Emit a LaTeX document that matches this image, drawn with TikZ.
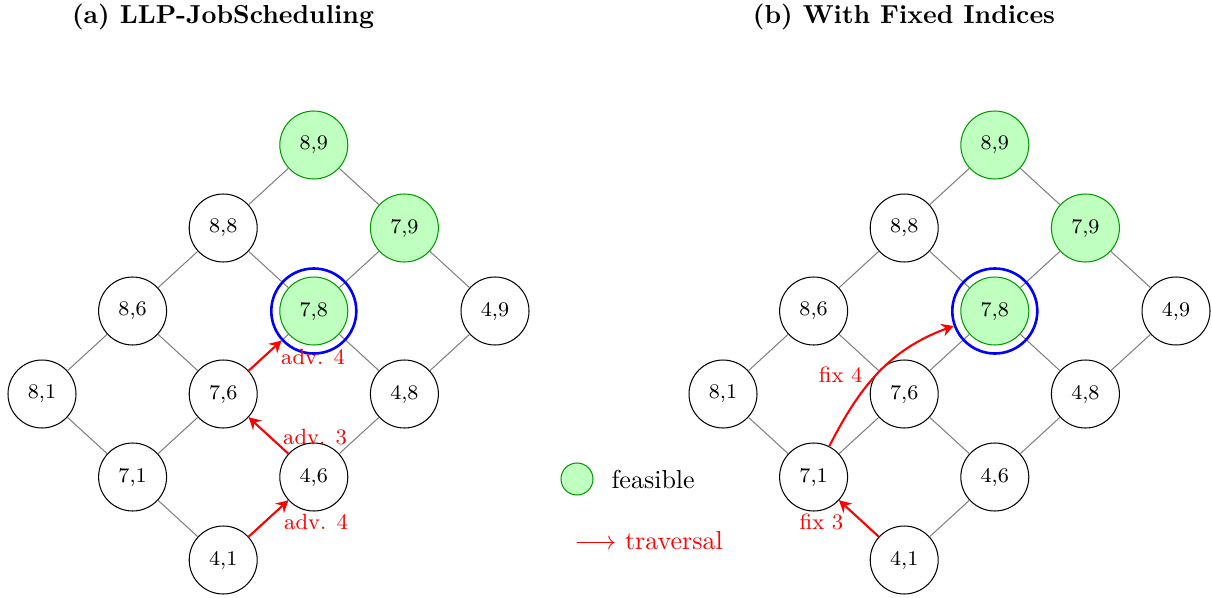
\documentclass[tikz,border=0pt]{standalone}
\usetikzlibrary{arrows.meta}
\begin{document}
\begin{tikzpicture}[x=0.3846pt,y=0.3846pt,
  state/.style={circle,draw=black,line width=0.4pt,fill=white,inner sep=0pt,
    minimum size=26.15pt,font=\fontsize{8}{9.6}\selectfont},
  feas/.style={state,draw=green!60!black,fill=green!25},
  lattice/.style={draw=gray,line width=0.4pt},
  trav/.style={draw=red,line width=0.8pt,-{Stealth[length=4.6pt,width=5pt,inset=1.6pt]}},
  travlbl/.style={text=red,inner sep=0pt,font=\fontsize{8.5}{10}\selectfont},
  ring/.style={circle,draw=blue,line width=1pt,inner sep=0pt,minimum size=32.7pt},
  ttl/.style={font=\bfseries}]
\useasboundingbox (0,0) rectangle (1212,597);

% titles
\node[ttl] (ta) at (223,580) {(a) LLP-JobScheduling};
\node[ttl] (tb) at (904,580) {(b) With Fixed Indices};

% ---------- (a) lattice ----------
\node[feas]  (a89) at (313.8,452) {8,9};
\node[state] (a88) at (223.2,369) {8,8};
\node[feas]  (a79) at (404.4,369) {7,9};
\node[state] (a86) at (132.6,286) {8,6};
\node[feas]  (a78) at (313.8,286) {7,8};
\node[state] (a49) at (495.0,286) {4,9};
\node[state] (a81) at (42.0,203) {8,1};
\node[state] (a76) at (223.2,203) {7,6};
\node[state] (a48) at (404.4,203) {4,8};
\node[state] (a71) at (132.6,120) {7,1};
\node[state] (a46) at (313.8,120) {4,6};
\node[state] (a41) at (223.2,37) {4,1};

\foreach \u/\v in {a89/a88,a89/a79,a88/a86,a88/a78,a79/a78,a79/a49,
  a86/a81,a86/a76,a78/a76,a78/a48,a49/a48,a81/a71,a76/a71,a76/a46,
  a48/a46,a71/a41,a46/a41}
  \draw[lattice] (\u) -- (\v);

% current state marker
\node[ring] (a78r) at (a78.center) {};

\draw[trav] (a41) -- (a46)
  node[at end,travlbl,anchor=north west,xshift=-2pt,yshift=-5pt] {adv. 4};
\draw[trav] (a46) -- (a76)
  node[at start,travlbl,anchor=south west,xshift=-2.4pt,yshift=3pt] {adv. 3};
\draw[trav] (a76) -- (a78r)
  node[at end,travlbl,anchor=north west,xshift=-0.5pt,yshift=-2.8pt] {adv. 4};

% ---------- (b) lattice ----------
\node[feas]  (b89) at (994.8,452) {8,9};
\node[state] (b88) at (904.2,369) {8,8};
\node[feas]  (b79) at (1085.4,369) {7,9};
\node[state] (b86) at (813.6,286) {8,6};
\node[feas]  (b78) at (994.8,286) {7,8};
\node[state] (b49) at (1176.0,286) {4,9};
\node[state] (b81) at (723.0,203) {8,1};
\node[state] (b76) at (904.2,203) {7,6};
\node[state] (b48) at (1085.4,203) {4,8};
\node[state] (b71) at (813.6,120) {7,1};
\node[state] (b46) at (994.8,120) {4,6};
\node[state] (b41) at (904.2,37) {4,1};

\foreach \u/\v in {b89/b88,b89/b79,b88/b86,b88/b78,b79/b78,b79/b49,
  b86/b81,b86/b76,b78/b76,b78/b48,b49/b48,b81/b71,b76/b71,b76/b46,
  b48/b46,b71/b41,b46/b41}
  \draw[lattice] (\u) -- (\v);

% current state marker
\node[ring] (b78r) at (b78.center) {};

\draw[trav] (b41) -- (b71)
  node[at end,travlbl,anchor=north east,xshift=2pt,yshift=-5pt] {fix 3};
\draw[trav] (b71) to[out=63,in=200]
  node[pos=0.5,travlbl,anchor=east,xshift=-6pt,yshift=-1pt] {fix 4} (b78r);

% ---------- legend ----------
\node[feas,minimum size=12.3pt] (lg) at (577,118) {};
\node[anchor=west,inner sep=0pt] (lgt) at (611,118) {feasible};
\node[anchor=west,inner sep=0pt,text=red] (lgr) at (574,56) {$\longrightarrow$ traversal};
\end{tikzpicture}
\end{document}
